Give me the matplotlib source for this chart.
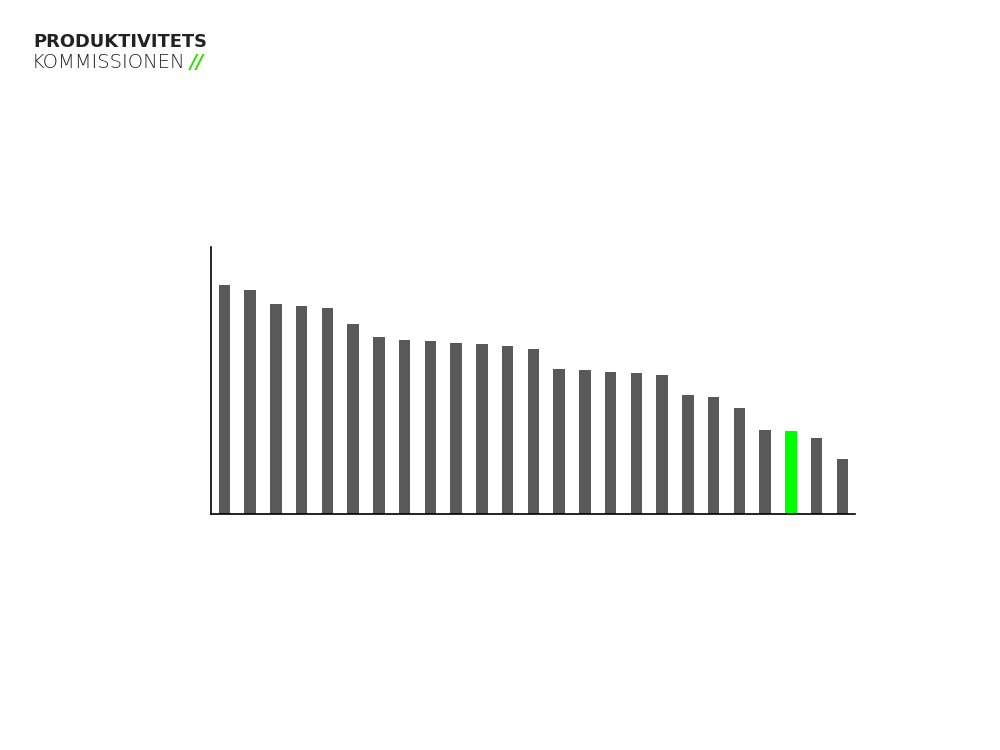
import matplotlib.pyplot as plt

# bar heights (arbitrary units, axis runs 0 - 26.7)
values = [22.9, 22.4, 21.0, 20.8, 20.6, 19.0, 17.7, 17.4, 17.3, 17.1, 17.0, 16.8, 16.5,
          14.5, 14.4, 14.2, 14.1, 13.9, 11.9, 11.7, 10.6, 8.4, 8.3, 7.6, 5.5]
highlight = 22  # index of the green bar

grey = "#595959"
green = "#00ff00"
colors = [green if i == highlight else grey for i in range(len(values))]

fig = plt.figure(figsize=(10, 7.5), dpi=100)
ax = fig.add_axes([0.211, 0.3147, 0.644, 0.356])
ax.bar(range(len(values)), values, width=0.45, color=colors)
ax.set_xlim(-0.52, 24.49)
ax.set_ylim(0, 26.7)
ax.set_xticks([])
ax.set_yticks([])
for side in ["top", "right"]:
    ax.spines[side].set_visible(False)
for side in ["left", "bottom"]:
    ax.spines[side].set_linewidth(1.2)
    ax.spines[side].set_color("black")

# logo
fig.text(0.033, 1 - 47 / 750, "PRODUKTIVITETS", fontsize=12.9, fontweight="bold",
         family="DejaVu Sans", color="#222222", va="baseline")
t = fig.text(0.032, 1 - 68 / 750, "KOMMISSIONEN", fontsize=14, fontweight="light",
             family="DejaVu Sans", color="#222222", va="baseline")
fig.canvas.draw()
bb = t.get_window_extent()
fig.text(bb.x1 / 1000 + 0.004, 1 - 68 / 750, "//", fontsize=14, fontweight="bold",
         family="DejaVu Sans", color="#33dd00", va="baseline", style="italic")

fig.savefig("out.png", dpi=100)
